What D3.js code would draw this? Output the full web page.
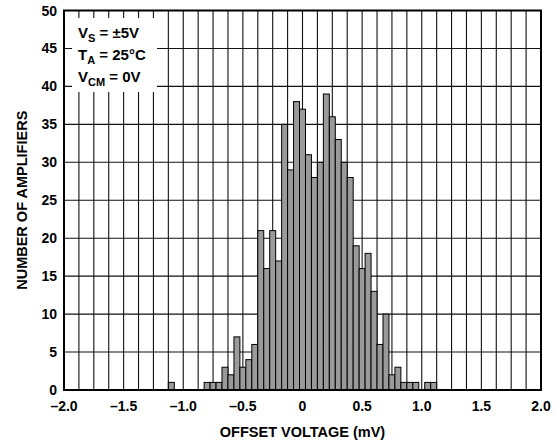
<!DOCTYPE html>
<html>
<head>
<meta charset="utf-8">
<script src="https://cdn.jsdelivr.net/npm/d3@7/dist/d3.min.js"></script>
<style>
  html, body { margin: 0; padding: 0; background: #fff; }
  svg { display: block; }
  text { font-family: "Liberation Sans", Arial, Helvetica, sans-serif; font-weight: bold; fill: #000; }
</style>
</head>
<body>
<svg id="chart" width="557" height="443"></svg>
<script>
// ---- data (bin centres in mV, counts) ----
const binCenters = [-1.10, -1.05, -1.00, -0.95, -0.90, -0.85, -0.80, -0.75, -0.70, -0.65,
                    -0.60, -0.55, -0.50, -0.45, -0.40, -0.35, -0.30, -0.25, -0.20, -0.15,
                    -0.10, -0.05, 0.00, 0.05, 0.10, 0.15, 0.20, 0.25, 0.30, 0.35,
                    0.40, 0.45, 0.50, 0.55, 0.60, 0.65, 0.70, 0.75, 0.80, 0.85,
                    0.90, 0.95, 1.00, 1.05, 1.10];
const counts = [1, 0, 0, 0, 0, 0, 1, 1, 1, 3,
                2, 7, 3, 4, 6, 21, 16, 21, 17, 35,
                29, 38, 37, 31, 28, 30, 39, 36, 33, 30,
                28, 19, 16, 18, 13, 6, 10, 2, 3, 1,
                1, 1, 0, 1, 1];
const binWidth = 0.05;
const xTickValues = [-2.0, -1.5, -1.0, -0.5, 0, 0.5, 1.0, 1.5, 2.0];
const xTickLabels = ["–2.0", "–1.5", "–1.0", "–0.5", "0", "0.5", "1.0", "1.5", "2.0"];
const yTickValues = [0, 5, 10, 15, 20, 25, 30, 35, 40, 45, 50];
const xTitle = "OFFSET VOLTAGE (mV)";
const yTitle = "NUMBER OF AMPLIFIERS";
const legendLines = [
  { main: "V", sub: "S", rest: " = ±5V" },
  { main: "T", sub: "A", rest: " = 25°C" },
  { main: "V", sub: "CM", rest: " = 0V" }
];

// ---- layout ----
const L = 64, R = 541, T = 10.5, B = 390;
const svg = d3.select("#chart");
const x = d3.scaleLinear().domain([-2, 2]).range([L, R]);
const y = d3.scaleLinear().domain([0, 50]).range([B, T]);

// grid
const vGrid = d3.range(-2 + 0.125, 2, 0.125);
const hGrid = d3.range(5, 50, 5);
const g = svg.append("g");
g.selectAll("line.v").data(vGrid).join("line")
  .attr("x1", d => x(d)).attr("x2", d => x(d))
  .attr("y1", T).attr("y2", B)
  .attr("stroke", "#111").attr("stroke-width", 1.1);
g.selectAll("line.h").data(hGrid).join("line")
  .attr("x1", L).attr("x2", R)
  .attr("y1", d => y(d)).attr("y2", d => y(d))
  .attr("stroke", "#111").attr("stroke-width", 1.1);

// legend box (white, masks grid)
svg.append("rect").attr("x", 72).attr("y", 18).attr("width", 85).attr("height", 74)
  .attr("fill", "#fff");

// bars
const bins = binCenters.map((c, i) => ({ c, n: counts[i] })).filter(d => d.n > 0);
svg.append("g").selectAll("rect").data(bins).join("rect")
  .attr("x", d => x(d.c - binWidth / 2))
  .attr("width", d => x(d.c + binWidth / 2) - x(d.c - binWidth / 2))
  .attr("y", d => y(d.n))
  .attr("height", d => y(0) - y(d.n))
  .attr("fill", "#9a9a9a").attr("stroke", "#000").attr("stroke-width", 1);

// frame
svg.append("rect").attr("x", L).attr("y", T).attr("width", R - L).attr("height", B - T)
  .attr("fill", "none").attr("stroke", "#000").attr("stroke-width", 2);

// y tick labels
svg.append("g").selectAll("text").data(yTickValues).join("text")
  .attr("x", 57).attr("y", d => y(d)).attr("dy", "0.36em")
  .attr("text-anchor", "end").attr("font-size", 14)
  .text(d => d);

// x tick labels
svg.append("g").selectAll("text").data(xTickValues).join("text")
  .attr("x", d => x(d)).attr("y", 411)
  .attr("text-anchor", "middle").attr("font-size", 14)
  .text((d, i) => xTickLabels[i]);

// axis titles
svg.append("text").attr("x", (L + R) / 2).attr("y", 437)
  .attr("text-anchor", "middle").attr("font-size", 14.5).text(xTitle);
svg.append("text").attr("transform", `translate(26.5,${(T + B) / 2}) rotate(-90)`)
  .attr("text-anchor", "middle").attr("font-size", 14.5).text(yTitle);

// legend text
const lg = svg.append("g");
legendLines.forEach((ln, i) => {
  const t = lg.append("text").attr("x", 78).attr("y", 38 + i * 22).attr("font-size", 15);
  t.append("tspan").text(ln.main);
  t.append("tspan").attr("font-size", 11).attr("dy", 4).text(ln.sub);
  t.append("tspan").attr("dy", -4).text(ln.rest);
});
</script>
</body>
</html>
